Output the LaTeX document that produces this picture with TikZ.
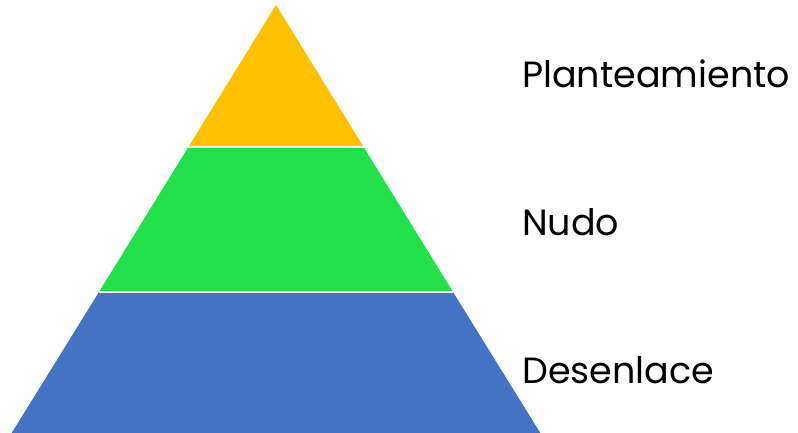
\documentclass[tikz,border=0pt]{standalone}
\usepackage{fontspec}
\setmainfont{Poppins}
\definecolor{pyyellow}{HTML}{FFC000}
\definecolor{pygreen}{HTML}{22E04A}
\definecolor{pyblue}{HTML}{4472C4}
\begin{document}
\begin{tikzpicture}[x=1pt,y=1pt,
  layer/.style={draw=white,line width=2.5pt,line join=miter},
  lbl/.style={anchor=base west,inner sep=0pt,font=\fontsize{36.5}{44}\selectfont}]
\useasboundingbox (0,0) rectangle (798,433);
\clip (0,0) rectangle (798,433);
\coordinate (apex) at (276,428);
\coordinate (yl) at (188.4,286);
\coordinate (yr) at (363.6,286);
\coordinate (gl) at (99,141);
\coordinate (gr) at (453,141);
\coordinate (bl) at (8,-6);
\coordinate (br) at (544,-6);
\fill[pyblue] (gl) -- (gr) -- (br) -- (bl) -- cycle;
\fill[pygreen] (yl) -- (yr) -- (gr) -- (gl) -- cycle;
\fill[pyyellow] (apex) -- (yr) -- (yl) -- cycle;
\draw[white,line width=2.5pt] (yl) -- (yr);
\draw[white,line width=2.5pt] (gl) -- (gr);
\node[lbl] (plan) at (522,345) {Planteamiento};
\node[lbl] (nudo) at (522,197) {Nudo};
\node[lbl] (des) at (522,49) {Desenlace};
\end{tikzpicture}
\end{document}
